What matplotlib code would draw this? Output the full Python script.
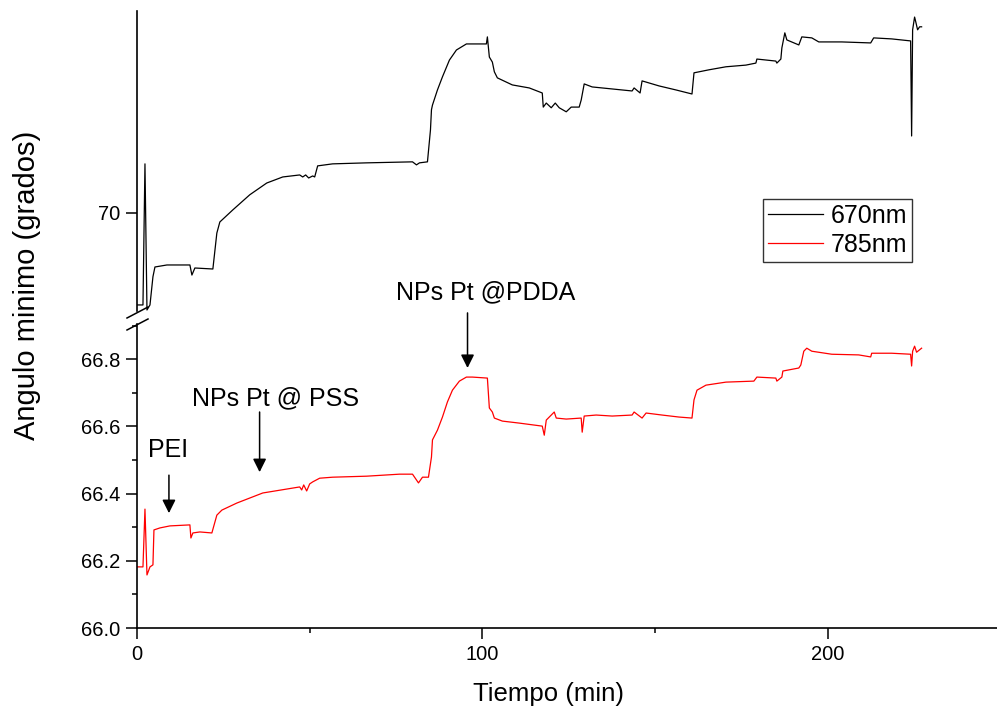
import numpy as np
import matplotlib.pyplot as plt
from matplotlib.lines import Line2D
from matplotlib.ticker import MultipleLocator, FormatStrFormatter

plt.rcParams["font.family"] = ["Liberation Sans", "DejaVu Sans"]

# 670 nm channel (upper panel)
t_670 = [0, 1.73, 2.31, 2.89, 3.76, 4.62, 5.20, 8.67, 15.32, 15.90, 16.76, 21.97,
         23.12, 23.99, 27.75, 32.66, 37.57, 42.20, 47.11, 47.98, 48.84, 49.71, 50.87,
         51.45, 52.31, 56.65, 66.47, 79.77, 80.92, 81.79, 84.10, 84.97, 85.26, 85.55,
         86.99, 88.44, 90.46, 92.49, 95.38, 101.16, 101.45, 102.02, 102.89, 103.47,
         104.34, 108.67, 113.58, 117.34, 117.63, 118.50, 119.94, 121.10, 122.25,
         124.28, 125.72, 128.03, 128.61, 129.48, 131.79, 137.57, 143.35, 143.93,
         145.66, 146.24, 151.16, 156.07, 160.69, 161.27, 165.61, 170.52, 176.30,
         179.19, 179.48, 184.97, 185.26, 186.42, 186.71, 187.57, 188.15, 191.62,
         192.49, 195.38, 197.40, 204.05, 212.43, 213.29, 218.50, 223.99, 224.28,
         224.57, 225.14, 225.43, 226.01, 226.59, 227.17]
ang_670 = [69.726, 69.726, 70.146, 69.711, 69.726, 69.810, 69.839, 69.845, 69.845,
           69.815, 69.836, 69.833, 69.940, 69.973, 70.009, 70.054, 70.089, 70.107,
           70.113, 70.107, 70.113, 70.104, 70.110, 70.107, 70.140, 70.146, 70.149,
           70.152, 70.143, 70.149, 70.152, 70.247, 70.307, 70.321, 70.366, 70.405,
           70.455, 70.485, 70.503, 70.503, 70.524, 70.464, 70.449, 70.420, 70.402,
           70.381, 70.372, 70.357, 70.315, 70.327, 70.313, 70.327, 70.313, 70.301,
           70.315, 70.315, 70.336, 70.384, 70.375, 70.369, 70.363, 70.372, 70.357,
           70.393, 70.378, 70.366, 70.354, 70.417, 70.426, 70.435, 70.440, 70.446,
           70.458, 70.452, 70.446, 70.458, 70.491, 70.536, 70.515, 70.500, 70.524,
           70.521, 70.509, 70.509, 70.506, 70.521, 70.518, 70.512, 70.229, 70.545,
           70.583, 70.571, 70.545, 70.554, 70.554]

# 785 nm channel (lower panel)
t_785 = [0, 1.73, 2.31, 2.89, 3.76, 4.62, 4.91, 6.65, 9.54, 15.32, 15.61, 16.18,
         18.21, 21.68, 23.12, 24.57, 28.90, 36.42, 47.11, 47.69, 48.27, 49.13, 50.00,
         50.87, 52.89, 56.65, 66.47, 76.01, 79.77, 81.50, 82.66, 84.39, 85.26, 85.55,
         86.99, 88.44, 89.88, 91.33, 93.35, 95.38, 97.11, 101.45, 102.02, 102.89,
         103.47, 105.78, 110.69, 117.34, 117.92, 118.50, 120.81, 121.39, 124.28,
         128.61, 128.90, 129.48, 132.95, 137.57, 143.35, 143.93, 146.24, 147.40,
         152.02, 156.94, 160.69, 161.27, 162.14, 164.74, 170.52, 178.61, 179.48,
         184.97, 185.26, 186.71, 187.00, 191.62, 192.20, 193.06, 193.93, 195.38,
         201.16, 208.96, 212.43, 212.72, 218.50, 223.99, 224.28, 224.57, 225.14,
         225.72, 227.17]
ang_785 = [66.182, 66.182, 66.354, 66.158, 66.182, 66.188, 66.292, 66.298, 66.304,
           66.307, 66.268, 66.283, 66.286, 66.283, 66.336, 66.351, 66.372, 66.402,
           66.420, 66.411, 66.426, 66.408, 66.429, 66.435, 66.446, 66.449, 66.452,
           66.458, 66.458, 66.432, 66.449, 66.449, 66.509, 66.560, 66.589, 66.628,
           66.673, 66.708, 66.735, 66.747, 66.747, 66.744, 66.655, 66.643, 66.625,
           66.616, 66.610, 66.601, 66.574, 66.619, 66.643, 66.625, 66.622, 66.625,
           66.583, 66.631, 66.634, 66.631, 66.634, 66.643, 66.625, 66.640, 66.634,
           66.628, 66.625, 66.679, 66.708, 66.723, 66.732, 66.735, 66.747, 66.744,
           66.735, 66.747, 66.765, 66.774, 66.783, 66.824, 66.833, 66.824, 66.815,
           66.813, 66.807, 66.818, 66.818, 66.815, 66.780, 66.824, 66.839, 66.821,
           66.833]

# deposition steps: label, time, arrow tip, arrow tail
steps = ["PEI", "NPs Pt @ PSS", "NPs Pt @PDDA"]
step_t = [9.25, 35.5, 95.7]
step_tip = [66.342, 66.464, 66.774]
step_tail = [66.455, 66.643, 66.938]
label_t = [9.1, 40.2, 100.9]
label_y = [66.509, 66.664, 66.979]

fig = plt.figure(figsize=(9.97, 7.11), dpi=100)
top = fig.add_axes([0.1374, 0.5626, 0.8626, 0.4219])
bot = fig.add_axes([0.1374, 0.1167, 0.8626, 0.4276])

l1, = top.plot(t_670, ang_670, color="black", lw=0.9)
l2, = bot.plot(t_785, ang_785, color="red", lw=0.9)

for ax in (top, bot):
    ax.set_xlim(0, 249)
    ax.spines["top"].set_visible(False)
    ax.spines["right"].set_visible(False)
    ax.spines["left"].set_linewidth(1.2)
    ax.spines["bottom"].set_linewidth(1.2)
    ax.tick_params(which="major", direction="out", length=8, width=1.1, labelsize=14.5, pad=4)
    ax.tick_params(which="minor", direction="out", length=3.6, width=1.1)

top.set_ylim(69.708, 70.601)
top.set_yticks([70])
top.yaxis.set_major_formatter(FormatStrFormatter("%d"))
top.spines["bottom"].set_visible(False)
top.tick_params(axis="x", which="both", bottom=False, labelbottom=False)

bot.set_ylim(66.0, 66.905)
bot.yaxis.set_major_locator(MultipleLocator(0.2))
bot.yaxis.set_minor_locator(MultipleLocator(0.1))
bot.yaxis.set_major_formatter(FormatStrFormatter("%.1f"))
bot.xaxis.set_major_locator(MultipleLocator(100))
bot.xaxis.set_minor_locator(MultipleLocator(50))

bot.set_xlabel("Tiempo (min)", fontsize=18.5)
bot.xaxis.set_label_coords(0.479, -0.178)
fig.text(0.027, 0.599, "Angulo minimo (grados)", rotation=90, fontsize=21,
         ha="center", va="center")

for name, x, tip, tail, lx, ly in zip(steps, step_t, step_tip, step_tail, label_t, label_y):
    bot.annotate("", xy=(x, tip), xytext=(x, tail), annotation_clip=False,
                 arrowprops=dict(arrowstyle="-|>", color="black", lw=1.1,
                                 mutation_scale=20, shrinkA=0, shrinkB=0))
    bot.text(lx, ly, name, fontsize=18, ha="center", va="baseline", clip_on=False)

# axis break marks on the shared left spine
for y0 in (318, 330):
    fig.add_artist(Line2D([127 / 997, 148 / 997],
                          [1 - y0 / 711, 1 - (y0 - 11) / 711],
                          color="black", lw=1.1))

leg = top.legend([l1, l2], ["670nm", "785nm"], loc="upper right",
                 bbox_to_anchor=(0.901, 0.375), fontsize=18, fancybox=False,
                 borderpad=0.2, handlelength=2.2, handletextpad=0.3,
                 labelspacing=0.2, borderaxespad=0)
leg.get_frame().set_edgecolor("black")
leg.get_frame().set_linewidth(1.0)

plt.savefig("out.png", dpi=100)
